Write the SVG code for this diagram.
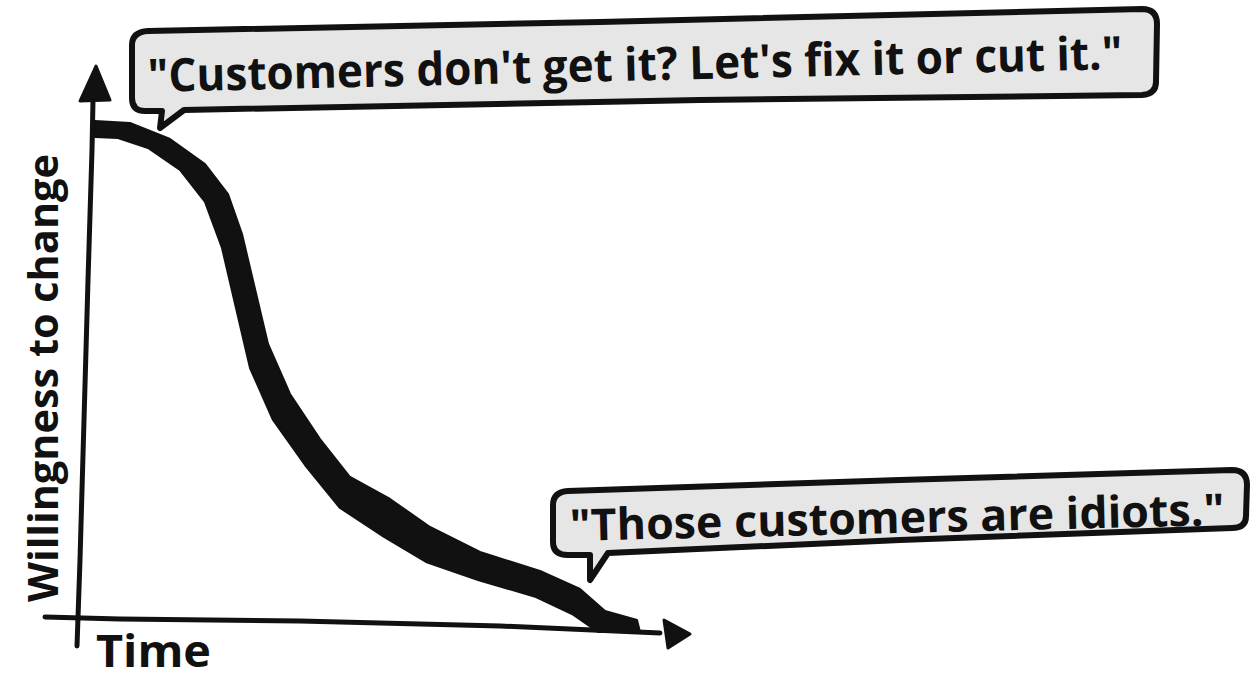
<svg xmlns="http://www.w3.org/2000/svg" width="1250" height="680" viewBox="0 0 1250 680">
<style>
.ink{fill:none;stroke:#111;stroke-width:5;stroke-linecap:round;stroke-linejoin:round}
.bub{fill:#e6e6e7;stroke:#111;stroke-width:6;stroke-linejoin:round}
.hand{font-family:"Open Sans","Liberation Sans",sans-serif;font-weight:700;fill:#111}
.head{fill:#111;stroke:#111;stroke-width:3;stroke-linejoin:round}
</style>
<rect width="1250" height="680" fill="#fff"/>
<g id="connectors">
<path class="ink" d="M77,646 L80,560 L84,420 L88,280 L92,150 L93,100"/>
<path class="head" d="M96,66 L110,100 L80,101 Z"/>
<path class="ink" d="M45,617 L120,619 L300,621 L500,626 L660,633"/>
<path class="head" d="M690,634 L664,620 L668,648 Z"/>
<path id="curve" fill="#111" stroke="#111" stroke-width="2" stroke-linejoin="round" d="M95,121 L130,123 L170,139 L205,164 L228,194 L242,234 L255,289 L268,344 L290,394 L320,439 L350,477 L390,499 L430,527 L480,552 L540,571 L580,589 L605,611 L637,620 L640,632 L598,632 L572,614 L536,597 L478,580 L426,562 L384,537 L340,508 L305,465 L273,420 L250,368 L236,308 L222,248 L205,202 L180,170 L148,148 L118,138 L95,137 Z"/>
</g>
<g id="bubble-top">
<path class="bub" d="M132,45 Q132,32 148,31 L600,22 L1142,9 Q1157,9 1157,24 L1156,82 Q1156,94 1142,95 L700,100 L184,110 L160,128 L162,111 L145,111 Q132,111 132,98 Z"/>
<text class="hand" font-size="46" x="148" y="92" textLength="975" lengthAdjust="spacingAndGlyphs" transform="rotate(-1.35 148 92)">"Customers don't get it? Let's fix it or cut it."</text>
</g>
<g id="bubble-bottom">
<path class="bub" d="M553,505 Q553,492 568,491 L900,480 L1232,470 Q1247,470 1247,485 L1246,516 Q1246,528 1232,528 L900,540 L608,553 L590,580 L590,555 L568,555 Q553,555 553,542 Z"/>
<text class="hand" font-size="44" x="570" y="541" textLength="655" lengthAdjust="spacingAndGlyphs" transform="rotate(-1.4 570 541)">"Those customers are idiots."</text>
</g>
<g id="label-y">
<text class="hand" font-size="42" x="0" y="0" textLength="448" lengthAdjust="spacingAndGlyphs" transform="translate(58 602) rotate(-90)">Willingness to change</text>
</g>
<g id="label-x">
<text class="hand" font-size="44" x="96" y="667" textLength="115" lengthAdjust="spacingAndGlyphs">Time</text>
</g>
</svg>
